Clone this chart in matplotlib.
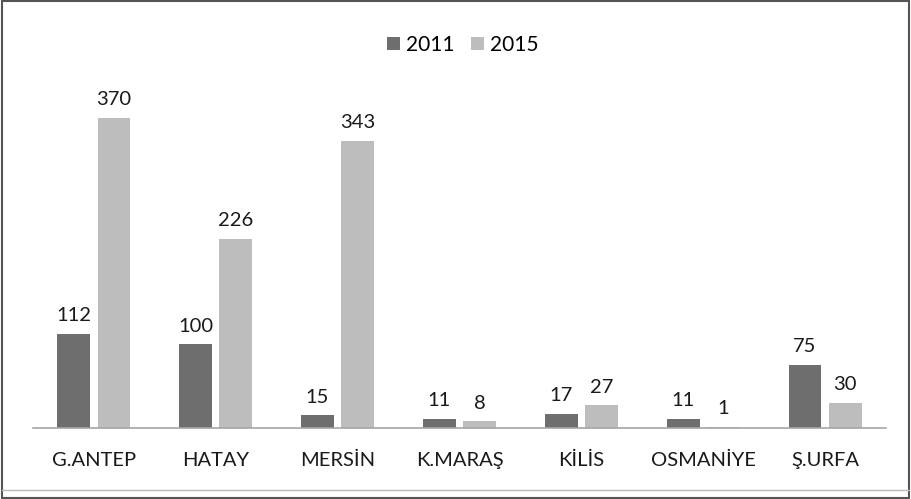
import numpy as np
import matplotlib
matplotlib.use("Agg")
import matplotlib.pyplot as plt
from matplotlib.patches import Rectangle

# data
provinces = ["G.ANTEP", "HATAY", "MERSİN", "K.MARAŞ", "KİLİS", "OSMANİYE", "Ş.URFA"]
values_2011 = [112, 100, 15, 11, 17, 11, 75]
values_2015 = [370, 226, 343, 8, 27, 1, 30]
series_names = ["2011", "2015"]

plt.rcParams['font.family'] = ['Lato', 'DejaVu Sans']
color_2011 = '#6e6e6e'
color_2015 = '#bdbdbd'

fig = plt.figure(figsize=(9.11, 4.99), dpi=100)
ax = fig.add_axes([33 / 911, 1 - 428 / 499, 853 / 911, (428 - 93) / 499])

x = np.arange(len(provinces))
width = 0.27
offset = 0.165
b1 = ax.bar(x - offset, values_2011, width, color=color_2011, label=series_names[0])
b2 = ax.bar(x + offset, values_2015, width, color=color_2015, label=series_names[1])

for bars in (b1, b2):
    for rect in bars:
        h = rect.get_height()
        ax.annotate(f"{h:g}", (rect.get_x() + rect.get_width() / 2, h),
                    xytext=(0, 7), textcoords='offset points',
                    ha='center', va='bottom', fontsize=14.5, color='#1a1a1a')

ax.set_xlim(-0.5, len(provinces) - 0.5)
ax.set_ylim(0, 400)
ax.set_xticks(x)
ax.set_xticklabels(provinces, fontsize=14.5, color='#1a1a1a')
ax.tick_params(axis='x', length=0, pad=17)
ax.set_yticks([])
for side in ['top', 'left', 'right']:
    ax.spines[side].set_visible(False)
ax.spines['bottom'].set_color('#a6a6a6')
ax.spines['bottom'].set_linewidth(1.2)

fig.legend(loc='upper center', bbox_to_anchor=(0.508, 0.967), ncol=2, frameon=False,
           fontsize=15, handlelength=0.6, handleheight=0.6, handletextpad=0.3,
           columnspacing=0.8)

# figure frame
fig.patches.append(Rectangle((0.002, 0.002), 0.996, 0.996, transform=fig.transFigure,
                             fill=False, edgecolor='#555555', linewidth=1.5))
fig.add_artist(plt.Line2D([0.002, 0.998], [1 - 490 / 499, 1 - 490 / 499],
                          transform=fig.transFigure, color='#bbbbbb', linewidth=1))

fig.savefig("out.png", dpi=100)
